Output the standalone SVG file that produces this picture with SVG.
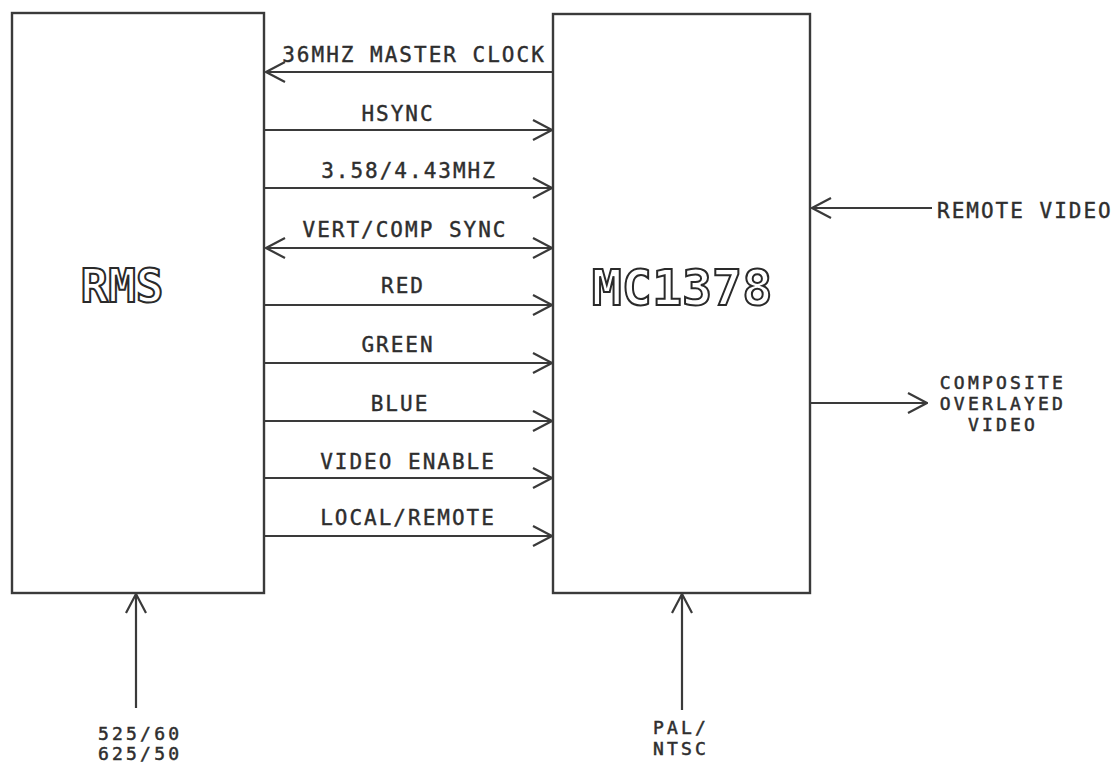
<svg xmlns="http://www.w3.org/2000/svg" width="1114" height="765" viewBox="0 0 1114 765">
<style>
.box{fill:none;stroke:#3a3a3a;stroke-width:2.4}
.ln{fill:none;stroke:#3a3a3a;stroke-width:2.2}
.lbl{font-family:"DejaVu Sans Mono","Liberation Mono",monospace;font-size:21px;letter-spacing:2px;fill:#2e2e2e;stroke:#2e2e2e;stroke-width:0.4}
.stk{font-family:"DejaVu Sans Mono","Liberation Mono",monospace;font-size:18px;letter-spacing:3.2px;fill:#2e2e2e;stroke:#2e2e2e;stroke-width:0.5}
.mid{text-anchor:middle}
.title{font-family:"DejaVu Sans Mono","Liberation Mono",monospace;font-weight:bold;fill:#ffffff;stroke:#2a2a2a;stroke-width:2;text-anchor:middle}
</style>
<defs>
<marker id="chev" viewBox="0 0 22 24" refX="21" refY="12" markerWidth="22" markerHeight="24" markerUnits="userSpaceOnUse" orient="auto-start-reverse">
<path d="M2,2 L21,12 L2,22" fill="none" stroke="#3a3a3a" stroke-width="2.2"/>
</marker>
</defs>
<rect width="1114" height="765" fill="#ffffff"/>

<g id="rms">
<rect class="box" x="12" y="13" width="252" height="580"/>
<text class="title" x="122" y="302" font-size="46">RMS</text>
</g>

<g id="mc1378">
<rect class="box" x="553" y="14" width="257" height="579"/>
<text class="title" x="682" y="305" font-size="50">MC1378</text>
</g>

<g id="connectors">
<line class="ln" x1="553" y1="72" x2="266" y2="72" marker-end="url(#chev)"/>
<line class="ln" x1="264" y1="130" x2="552" y2="130" marker-end="url(#chev)"/>
<line class="ln" x1="264" y1="188" x2="552" y2="188" marker-end="url(#chev)"/>
<line class="ln" x1="266" y1="248" x2="552" y2="248" marker-start="url(#chev)" marker-end="url(#chev)"/>
<line class="ln" x1="264" y1="305" x2="552" y2="305" marker-end="url(#chev)"/>
<line class="ln" x1="264" y1="363" x2="552" y2="363" marker-end="url(#chev)"/>
<line class="ln" x1="264" y1="421" x2="552" y2="421" marker-end="url(#chev)"/>
<line class="ln" x1="264" y1="478" x2="552" y2="478" marker-end="url(#chev)"/>
<line class="ln" x1="264" y1="536" x2="552" y2="536" marker-end="url(#chev)"/>
<line class="ln" x1="932" y1="208" x2="812" y2="208" marker-end="url(#chev)"/>
<line class="ln" x1="810" y1="403" x2="927" y2="403" marker-end="url(#chev)"/>
<line class="ln" x1="136" y1="708" x2="136" y2="594" marker-end="url(#chev)"/>
<line class="ln" x1="682" y1="710" x2="682" y2="594" marker-end="url(#chev)"/>
</g>

<g id="labels">
<text class="lbl mid" x="414" y="62">36MHZ MASTER CLOCK</text>
<text class="lbl mid" x="398" y="121">HSYNC</text>
<text class="lbl mid" x="409" y="178">3.58/4.43MHZ</text>
<text class="lbl mid" x="405" y="237">VERT/COMP SYNC</text>
<text class="lbl mid" x="403" y="293">RED</text>
<text class="lbl mid" x="398" y="352">GREEN</text>
<text class="lbl mid" x="400" y="411">BLUE</text>
<text class="lbl mid" x="408" y="469">VIDEO ENABLE</text>
<text class="lbl mid" x="408" y="525">LOCAL/REMOTE</text>
</g>

<g id="remote-video">
<text class="lbl" x="937" y="218">REMOTE VIDEO</text>
</g>

<g id="composite-video">
<text class="stk mid" x="1003" y="389">COMPOSITE</text>
<text class="stk mid" x="1003" y="410">OVERLAYED</text>
<text class="stk mid" x="1003" y="431">VIDEO</text>
</g>

<g id="standard-input">
<text class="stk" x="98" y="740">525/60</text>
<text class="stk" x="98" y="760">625/50</text>
</g>

<g id="pal-ntsc-input">
<text class="stk" x="653" y="734">PAL/</text>
<text class="stk" x="653" y="755">NTSC</text>
</g>
</svg>
